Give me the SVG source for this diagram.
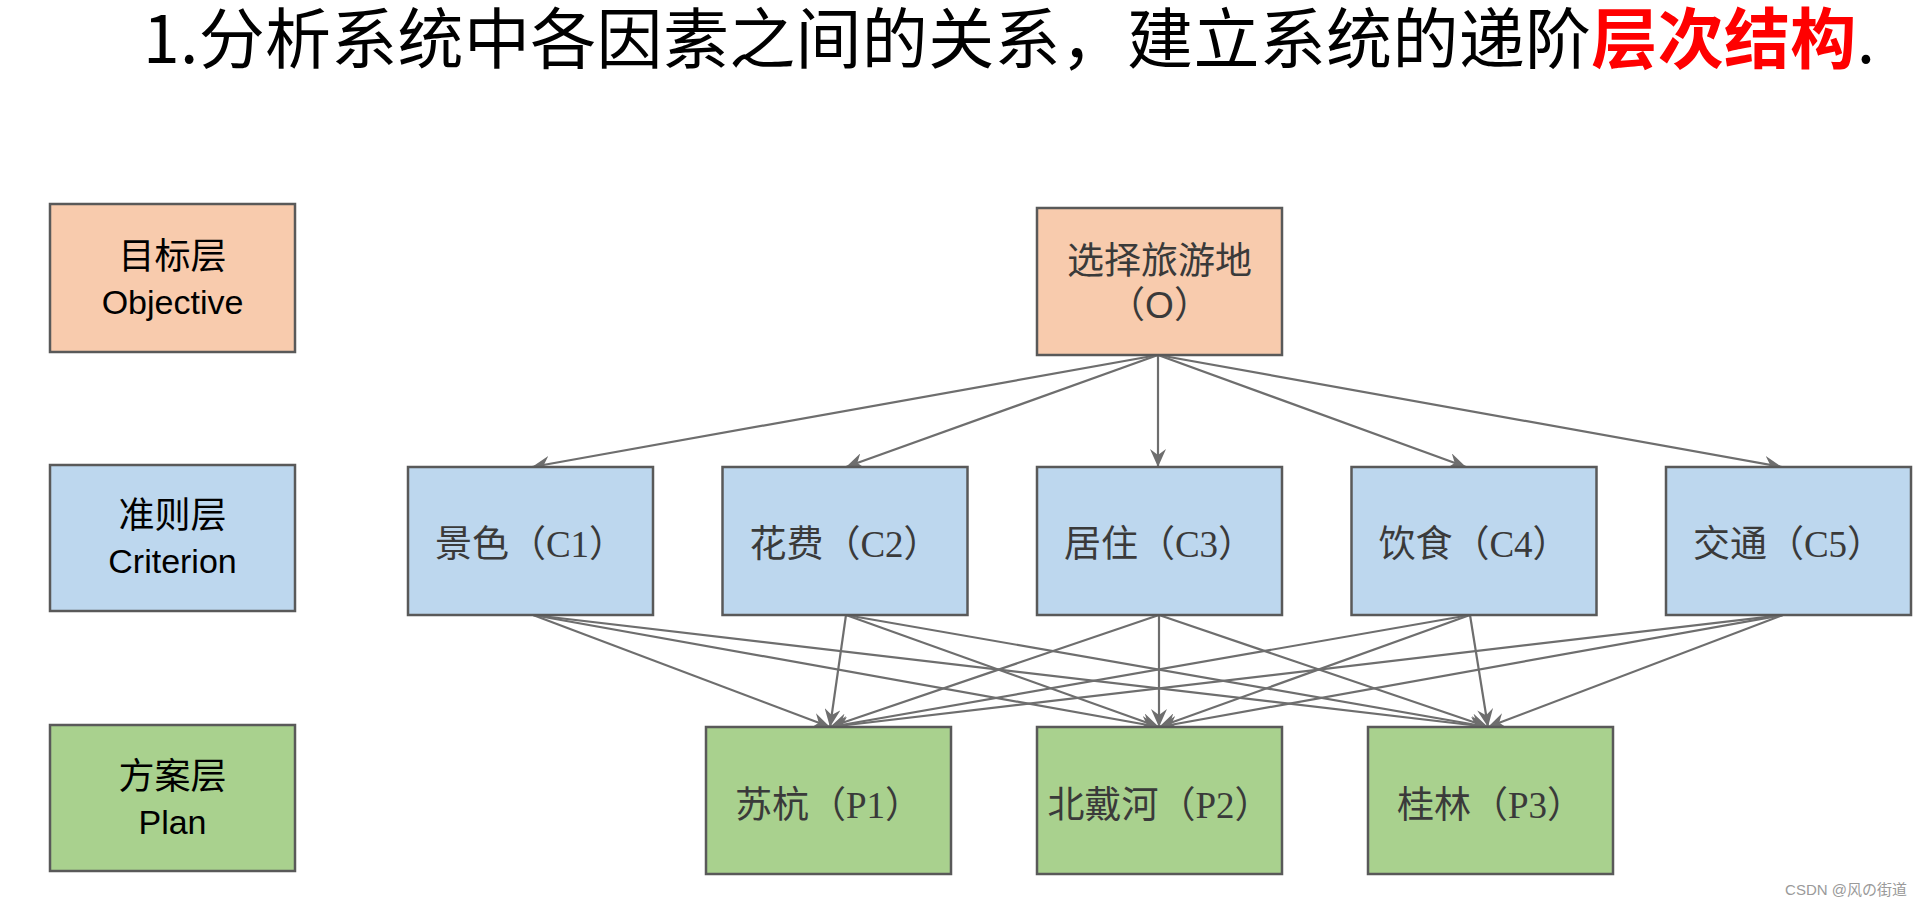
<svg xmlns="http://www.w3.org/2000/svg" width="1923" height="906" viewBox="0 0 1923 906">
<defs>
<style>
.box{stroke:#595959;stroke-width:2.5}
.obj{fill:#F8CBAD}
.cri{fill:#BDD7EE}
.pla{fill:#A9D18E}
.lab{font-family:"Liberation Sans","Noto Sans CJK SC",sans-serif;fill:#000;text-anchor:middle}
.node{font-family:"Liberation Serif","Noto Sans CJK SC",serif;font-size:37px;fill:#3a3a3a;text-anchor:middle}
.nodesans{font-family:"Liberation Sans","Noto Sans CJK SC",sans-serif;font-size:37px;fill:#3a3a3a;text-anchor:middle}
.edge{stroke:#6e6e6e;stroke-width:2.2;fill:none;marker-end:url(#ah)}
</style>
<marker id="ah" viewBox="0 0 18 16" refX="18" refY="8" markerWidth="18" markerHeight="16" markerUnits="userSpaceOnUse" orient="auto">
<path d="M0,0 L18,8 L0,16 L6,8 Z" fill="#6e6e6e"/>
</marker>
</defs>
<rect width="1923" height="906" fill="#fff"/>

<text id="title" x="143" y="63" font-size="66" textLength="1732" lengthAdjust="spacing" font-family="'Noto Sans CJK SC','Liberation Sans',sans-serif" fill="#000">1.分析系统中各因素之间的关系，建立系统的递阶<tspan fill="#FF0000" font-weight="bold">层次结构</tspan>.</text>

<g id="level-objective">
<rect class="box obj" x="50" y="204" width="245" height="148"/>
<text class="lab" x="172.5" y="269" font-size="36">目标层</text>
<text class="lab" x="172.5" y="314" font-size="34">Objective</text>
</g>
<g id="level-criterion">
<rect class="box cri" x="50" y="465" width="245" height="146"/>
<text class="lab" x="172.5" y="528" font-size="36">准则层</text>
<text class="lab" x="172.5" y="573" font-size="34">Criterion</text>
</g>
<g id="level-plan">
<rect class="box pla" x="50" y="725" width="245" height="146"/>
<text class="lab" x="172.5" y="789" font-size="36">方案层</text>
<text class="lab" x="172.5" y="834" font-size="34">Plan</text>
</g>

<g id="connectors">
<line class="edge" x1="1158" y1="355" x2="532" y2="467"/>
<line class="edge" x1="1158" y1="355" x2="846" y2="467"/>
<line class="edge" x1="1158" y1="355" x2="1158" y2="467"/>
<line class="edge" x1="1158" y1="355" x2="1466" y2="467"/>
<line class="edge" x1="1158" y1="355" x2="1782" y2="467"/>

<line class="edge" x1="533" y1="615" x2="830" y2="727"/>
<line class="edge" x1="533" y1="615" x2="1159" y2="727"/>
<line class="edge" x1="533" y1="615" x2="1488" y2="727"/>
<line class="edge" x1="846" y1="615" x2="830" y2="727"/>
<line class="edge" x1="846" y1="615" x2="1159" y2="727"/>
<line class="edge" x1="846" y1="615" x2="1488" y2="727"/>
<line class="edge" x1="1159" y1="615" x2="830" y2="727"/>
<line class="edge" x1="1159" y1="615" x2="1159" y2="727"/>
<line class="edge" x1="1159" y1="615" x2="1488" y2="727"/>
<line class="edge" x1="1470" y1="615" x2="830" y2="727"/>
<line class="edge" x1="1470" y1="615" x2="1159" y2="727"/>
<line class="edge" x1="1470" y1="615" x2="1488" y2="727"/>
<line class="edge" x1="1783" y1="615" x2="830" y2="727"/>
<line class="edge" x1="1783" y1="615" x2="1159" y2="727"/>
<line class="edge" x1="1783" y1="615" x2="1488" y2="727"/>
</g>

<g id="O">
<rect class="box obj" x="1037" y="208" width="245" height="147"/>
<text class="node" x="1159.5" y="274" font-size="38">选择旅游地</text>
<text class="nodesans" x="1159.5" y="318">（O）</text>
</g>

<g id="C1">
<rect class="box cri" x="408" y="467" width="245" height="148"/>
<text class="node" x="530.5" y="557">景色（C1）</text>
</g>
<g id="C2">
<rect class="box cri" x="722.5" y="467" width="245" height="148"/>
<text class="node" x="845" y="557">花费（C2）</text>
</g>
<g id="C3">
<rect class="box cri" x="1037" y="467" width="245" height="148"/>
<text class="node" x="1159.5" y="557">居住（C3）</text>
</g>
<g id="C4">
<rect class="box cri" x="1351.5" y="467" width="245" height="148"/>
<text class="node" x="1474" y="557">饮食（C4）</text>
</g>
<g id="C5">
<rect class="box cri" x="1666" y="467" width="245" height="148"/>
<text class="node" x="1788.5" y="557">交通（C5）</text>
</g>

<g id="P1">
<rect class="box pla" x="706" y="727" width="245" height="147"/>
<text class="node" x="828.5" y="818">苏杭（P1）</text>
</g>
<g id="P2">
<rect class="box pla" x="1037" y="727" width="245" height="147"/>
<text class="node" x="1159.5" y="818">北戴河（P2）</text>
</g>
<g id="P3">
<rect class="box pla" x="1368" y="727" width="245" height="147"/>
<text class="node" x="1490.5" y="818">桂林（P3）</text>
</g>

<text id="watermark" x="1907" y="895" font-size="15" font-family="'Liberation Sans','Noto Sans CJK SC',sans-serif" fill="#9a9a9a" text-anchor="end">CSDN @风の街道</text>
</svg>
